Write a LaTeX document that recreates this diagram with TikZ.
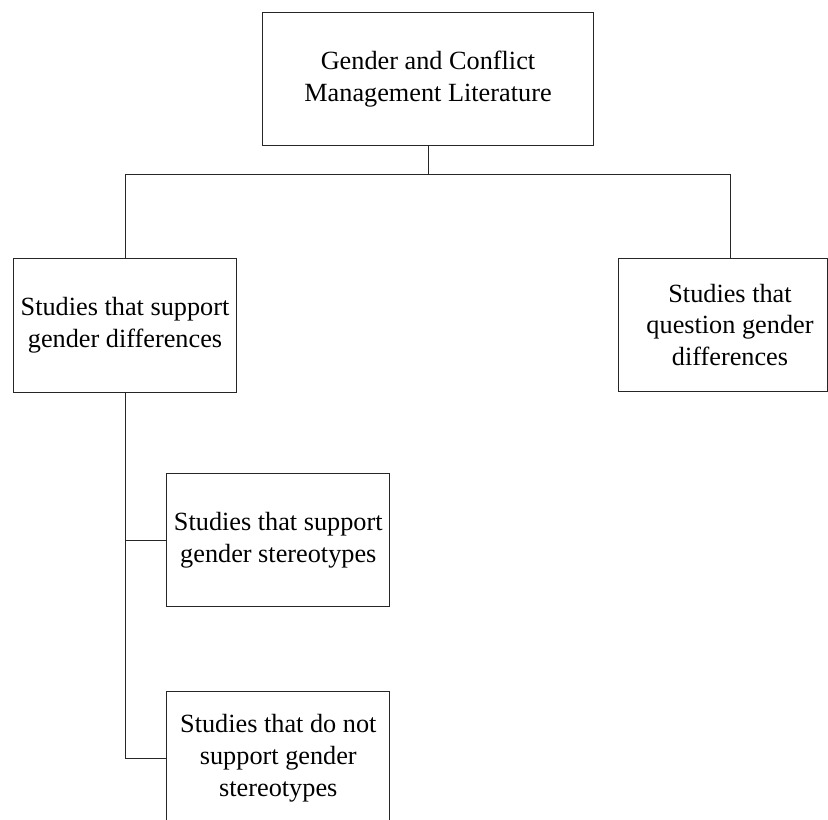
\documentclass[tikz,border=0pt]{standalone}
\usepackage{fontspec}
\setmainfont{Liberation Serif}
\begin{document}
\begin{tikzpicture}[x=0.75pt, y=-0.75pt,
  every node/.style={font=\fontsize{19.7}{23.8}\selectfont, align=center, inner sep=0pt},
  box/.style={draw=black!85, line width=0.75pt},
  wide/.style={minimum width=248pt, minimum height=100pt},
  std/.style={minimum width=167.5pt, minimum height=100.3pt},
  link/.style={draw=black!85, line width=0.75pt}]
\useasboundingbox (0,0) rectangle (828,819);
\clip (0,0) rectangle (828,819);

% boxes
\node[box, wide] (top) at (428,79) {Gender and Conflict\\Management Literature};
\node[box, std] (leftbox) at (125,325.3) {Studies that support\\gender differences};
\node[box, minimum width=156.8pt, minimum height=100.3pt] (rightbox) at (722.8,325) {};
\node (rightlabel) at (730,325) {Studies that\\question gender\\differences};
\node[box, std] (midbox) at (278.3,540) {Studies that support\\gender stereotypes};
\node[box, std] (botbox) at (278.3,758.3) {Studies that do not\\support gender\\stereotypes};

% connectors
\coordinate (bus) at (428,174.3);
\draw[link] (top.south) -- (bus);
\draw[link] (leftbox.north) |- (bus);
\draw[link] (bus) -| (rightlabel.north |- rightbox.north);
\draw[link] (leftbox.south) |- (midbox.west);
\draw[link] (leftbox.south) |- (botbox.west);
\end{tikzpicture}
\end{document}
